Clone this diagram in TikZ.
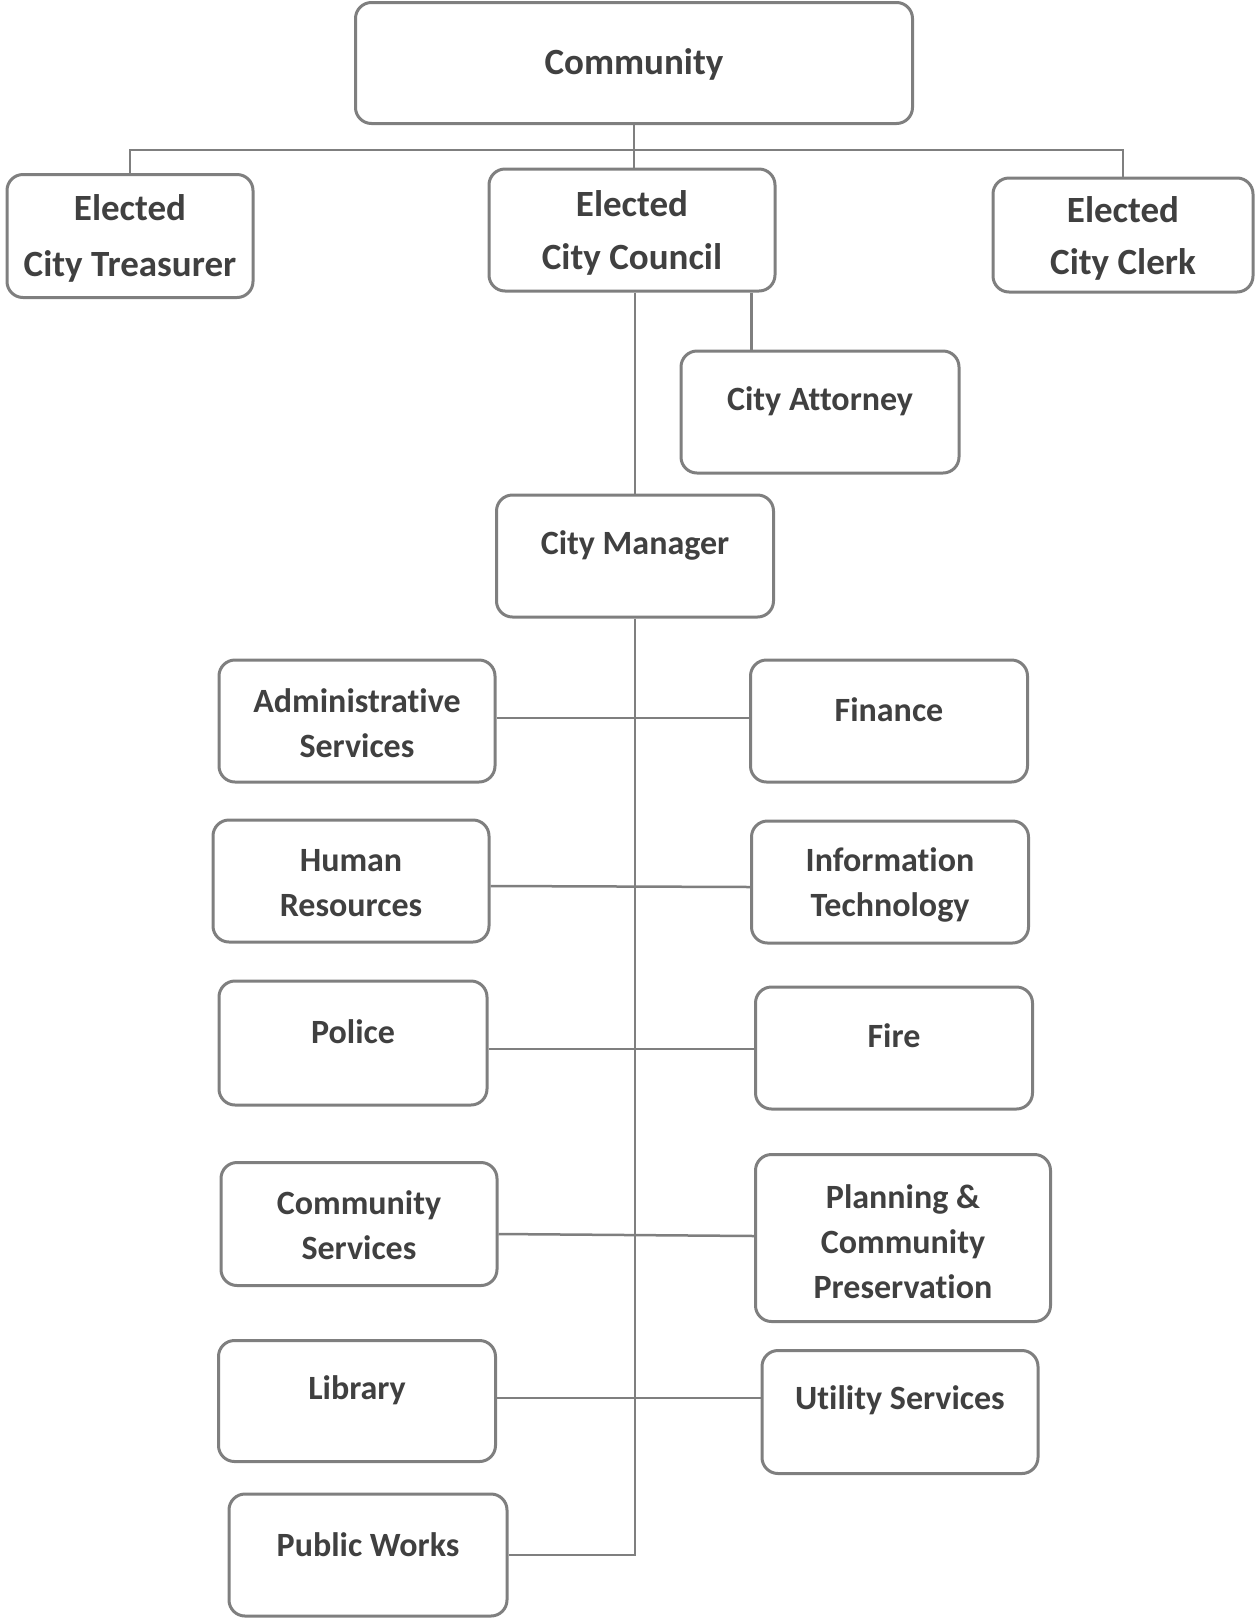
\documentclass[tikz,border=0pt]{standalone}
\usepackage{fontspec}
\setmainfont{Carlito}[RawFeature={-liga;-clig;-calt}]
\usetikzlibrary{positioning,calc}
\definecolor{boxgray}{HTML}{7F7F7F}
\definecolor{txtgray}{HTML}{404040}

\begin{document}
\begin{tikzpicture}[x=1pt,y=-1pt,
  unit/.style={draw=boxgray, line width=3pt, rounded corners=16pt, fill=white,
    inner sep=0pt, minimum width=277pt, minimum height=122pt},
  conn/.style={draw=boxgray, line width=2.5pt},
  big/.style={font=\bfseries\fontsize{37}{55}\selectfont, text=txtgray, align=center},
  small/.style={font=\bfseries\fontsize{34}{45}\selectfont, text=txtgray, align=center}]
  \useasboundingbox (0,0) rectangle (1255,1618);

  % Top level
  \node[unit, minimum width=557pt, minimum height=121pt,
    label={[big, yshift=-1pt]center:Community}] (com) at (634,63) {};

  % Elected offices
  \node[unit, minimum width=246pt, minimum height=123pt,
    label={[big, yshift=-2pt]center:Elected\\[1pt]City Treasurer}] (tre) at (130,236) {};
  \node[unit, minimum width=286pt,
    label={[big, yshift=-3pt]center:Elected\\[-2pt]City Council}] (cou) at (632,230) {};
  \node[unit, minimum width=260pt, minimum height=114pt,
    label={[big, yshift=-3pt]center:Elected\\[-3pt]City Clerk}] (clk) at (1123,235) {};

  % Appointed by council
  \node[unit, minimum width=278pt,
    label={[small, yshift=11pt]center:City Attorney}] (att) at (820,412) {};
  \node[unit, label={[small, yshift=11pt]center:City Manager}] (mgr) at (635,556) {};

  % Departments, left column
  \node[unit, minimum width=276pt,
    label={[small, yshift=-2pt]center:Administrative\\Services}] (adm) at (357,721) {};
  \node[unit, minimum width=276pt,
    label={[small, yshift=-2pt]center:Human\\Resources}] (hr) at (351,881) {};
  \node[unit, minimum width=268pt, minimum height=124pt,
    label={[small, yshift=11pt]center:Police}] (pol) at (353,1043) {};
  \node[unit, minimum width=276pt, minimum height=123pt,
    label={[small, yshift=-1pt]center:Community\\Services}] (cs) at (359,1224) {};
  \node[unit, minimum height=121pt,
    label={[small, yshift=11pt]center:Library}] (lib) at (357,1401) {};
  \node[unit, minimum width=278pt,
    label={[small, yshift=10pt]center:Public Works}] (pw) at (368,1555) {};

  % Departments, right column
  \node[unit, label={[small, yshift=11pt]center:Finance}] (fin) at (889,721) {};
  \node[unit, label={[small, yshift=-3pt]center:Information\\Technology}] (it) at (890,882) {};
  \node[unit, label={[small, yshift=12pt]center:Fire}] (fir) at (894,1048) {};
  \node[unit, minimum width=295pt, minimum height=167pt,
    label={[small, yshift=-4pt]center:Planning \&\\Community\\Preservation}] (pln) at (903,1238) {};
  \node[unit, minimum width=276pt, minimum height=123pt,
    label={[small, yshift=12pt]center:Utility Services}] (uti) at (900,1412) {};

  % Connectors
  \coordinate (jt) at (634,150);
  \draw[conn] (tre.north) |- (jt) -| (clk.north);
  \draw[conn] (com.south) -- (cou.north -| com.south);
  \draw[conn] (cou.south -| mgr.north) -- (mgr.north);
  \draw[conn] ([xshift=-25pt]cou.south east) -- ([xshift=-25pt]cou.south east |- att.north);
  \draw[conn] (mgr.south) |- (pw.east);

  \draw[conn] ([yshift=3pt]adm.east) -- ([yshift=3pt]fin.west);
  \draw[conn] ([yshift=-5pt]hr.east) -- ([yshift=-5pt]it.west);
  \draw[conn] ([yshift=-6pt]pol.east) -- ([yshift=-1pt]fir.west);
  \draw[conn] ([yshift=-10pt]cs.east) -- ([yshift=2pt]pln.west);
  \draw[conn] ([yshift=3pt]lib.east) -- ([yshift=14pt]uti.west);
\end{tikzpicture}
\end{document}
